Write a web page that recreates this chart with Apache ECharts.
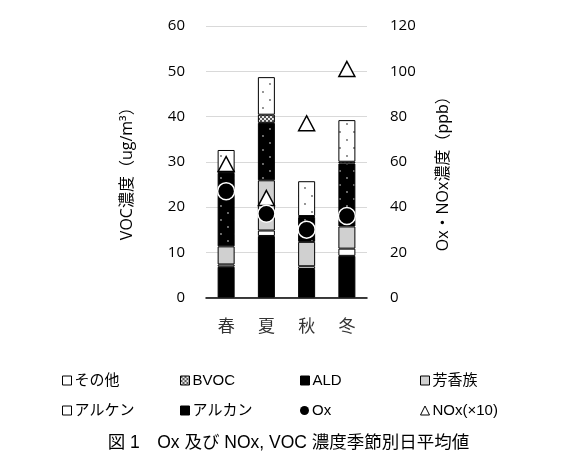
<!DOCTYPE html>
<html>
<head>
<meta charset="utf-8">
<script src="https://cdn.jsdelivr.net/npm/echarts@6/dist/echarts.min.js"></script>
<style>
  html, body { margin: 0; padding: 0; background: #fff; }
  #chart { width: 577px; height: 471px; }
</style>
</head>
<body>
<div id="chart"></div>
<script>
// Seasons on the category axis
const seasons = ['春', '夏', '秋', '冬'];

// VOC components (ug/m3), stacked bottom to top
const alkane   = [6.8, 13.6, 6.3, 9.2];   // アルカン
const alkene   = [0.5, 1.2, 0.6, 1.6];    // アルケン
const aromatic = [4.0, 11.1, 5.4, 4.9];   // 芳香族
const ald      = [16.2, 12.7, 5.5, 13.9]; // ALD
const bvoc     = [0.1, 1.8, 0.2, 0.4];    // BVOC
const other    = [5.0, 8.3, 7.7, 9.2];    // その他

// Ox and NOx (x10) in ppb, right axis
const ox     = [47, 37, 30, 36];
const noxX10 = [59, 44, 77, 101];

// Tick settings
const vocMax = 60, vocStep = 10;
const ppbMax = 120, ppbStep = 20;

const FONT = '"Liberation Sans", "Noto Sans CJK JP", sans-serif';
const NUM_FONT = '"Open Sans", "Noto Sans", sans-serif';
const CJK_FONT = '"Noto Sans CJK JP", sans-serif';

// Small repeating fills for the textured segments
function makePattern(w, h, bg, dots, dotColor, r) {
  const c = document.createElement('canvas');
  c.width = w; c.height = h;
  const g = c.getContext('2d');
  g.fillStyle = bg;
  g.fillRect(0, 0, w, h);
  g.fillStyle = dotColor;
  dots.forEach(([x, y]) => {
    g.beginPath();
    g.arc(x, y, r, 0, Math.PI * 2);
    g.fill();
  });
  return { image: c, repeat: 'repeat' };
}
const aldFill   = makePattern(14, 14, '#000', [[4, 3], [11, 10]], '#9a9a9a', 0.9);
const otherFill = makePattern(14, 16, '#fff', [[4, 4], [11, 12]], '#666', 0.9);
const bvocFill  = (function () {
  const c = document.createElement('canvas');
  c.width = 4; c.height = 4;
  const g = c.getContext('2d');
  g.fillStyle = '#e8e8e8'; g.fillRect(0, 0, 4, 4);
  g.fillStyle = '#555';
  g.fillRect(0, 0, 2, 2); g.fillRect(2, 2, 2, 2);
  return { image: c, repeat: 'repeat' };
})();

function barSeries(name, data, color) {
  return {
    name: name,
    type: 'bar',
    stack: 'voc',
    data: data,
    barWidth: 17,
    itemStyle: { color: color, borderColor: '#000', borderWidth: 1 },
    emphasis: { disabled: true }
  };
}

const series = [
  barSeries('アルカン', alkane, '#000'),
  barSeries('アルケン', alkene, '#fff'),
  barSeries('芳香族', aromatic, '#d0d0d0'),
  barSeries('ALD', ald, aldFill),
  barSeries('BVOC', bvoc, bvocFill),
  barSeries('その他', other, otherFill),
  {
    name: 'NOx(×10)',
    type: 'scatter',
    yAxisIndex: 1,
    data: noxX10,
    symbol: 'triangle',
    symbolSize: [16, 15],
    z: 5,
    itemStyle: { color: '#fff', borderColor: '#000', borderWidth: 1.5, opacity: 1 },
    emphasis: { disabled: true }
  },
  {
    name: 'Ox',
    type: 'scatter',
    yAxisIndex: 1,
    data: ox,
    symbol: 'circle',
    symbolSize: 17,
    z: 6,
    itemStyle: { color: '#000', borderColor: '#fff', borderWidth: 1.5, opacity: 1 },
    emphasis: { disabled: true }
  }
];

// One legend entry per slot: two rows of four columns; the key swatch fill
const legendSlots = [
  ['その他', 62, 373, 'rect', '#fff'], ['BVOC', 180, 373, 'rect', null],
  ['ALD', 300, 373, 'rect', '#000'], ['芳香族', 420, 373, 'rect', null],
  ['アルケン', 62, 403, 'rect', null], ['アルカン', 180, 403, 'rect', null],
  ['Ox', 300, 403, 'circle', null], ['NOx(×10)', 420, 403, 'triangle', null]
];
const legends = legendSlots.map(([name, x, y, icon, swatch]) => {
  const item = { name: name, icon: icon };
  const style = icon === 'circle' ? { borderWidth: 0 } : { borderWidth: 1, borderColor: '#000' };
  if (swatch) style.color = swatch;
  item.itemStyle = style;
  return {
    data: [item],
    left: x,
    top: y,
    padding: 0,
    itemWidth: 9,
    itemHeight: 9,
    selectedMode: false,
    textStyle: { fontFamily: FONT, fontSize: 15, color: '#000', padding: [0, 0, 0, -2] }
  };
});

const chart = echarts.init(document.getElementById('chart'), null, { renderer: 'canvas' });
chart.setOption({
  animation: false,
  backgroundColor: '#fff',
  title: {
    text: '図 1　Ox 及び NOx, VOC 濃度季節別日平均値',
    left: 'center',
    top: 429,
    textStyle: { fontFamily: FONT, fontSize: 17.5, fontWeight: 'normal', color: '#000' }
  },
  legend: legends,
  grid: { left: 206, right: 210, top: 26, bottom: 173.5 },
  xAxis: {
    type: 'category',
    data: seasons,
    axisTick: { show: false },
    axisLine: { lineStyle: { color: '#000', width: 1.5 } },
    axisLabel: { fontFamily: CJK_FONT, fontSize: 17, color: '#333', margin: 20 }
  },
  yAxis: [
    {
      type: 'value',
      min: 0, max: vocMax, interval: vocStep,
      name: 'VOC濃度（ug/m³）',
      nameLocation: 'middle',
      nameRotate: 90,
      nameGap: 71,
      nameTextStyle: { fontFamily: NUM_FONT + ', ' + CJK_FONT, fontSize: 16, color: '#000', padding: [0, 16, 0, 0] },
      axisLine: { show: false },
      axisTick: { show: false },
      axisLabel: { fontFamily: NUM_FONT, fontSize: 15, color: '#000', margin: 21 },
      splitLine: { lineStyle: { color: '#d9d9d9', width: 1 } }
    },
    {
      type: 'value',
      min: 0, max: ppbMax, interval: ppbStep,
      name: 'Ox・NOx濃度（ppb）',
      nameLocation: 'middle',
      nameRotate: 90,
      nameGap: 68,
      nameTextStyle: { fontFamily: NUM_FONT + ', ' + CJK_FONT, fontSize: 16, color: '#000', padding: [0, 16, 0, 0] },
      axisLine: { show: false },
      axisTick: { show: false },
      axisLabel: { fontFamily: NUM_FONT, fontSize: 15, color: '#000', margin: 23 },
      splitLine: { show: false }
    }
  ],
  series: series
});
</script>
</body>
</html>
